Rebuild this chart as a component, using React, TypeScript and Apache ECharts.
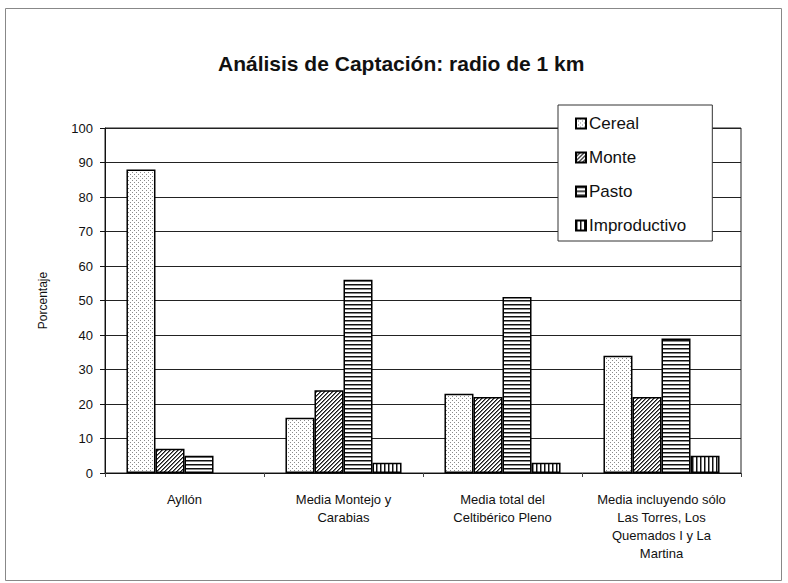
import React, { useEffect, useRef } from "react";
import * as echarts from "echarts";

const categories = [
  "Ayllón",
  "Media Montejo y\nCarabias",
  "Media total del\nCeltibérico Pleno",
  "Media incluyendo sólo\nLas Torres, Los\nQuemados I y La\nMartina",
];
const seriesNames = ["Cereal", "Monte", "Pasto", "Improductivo"];
const cereal = [88, 16, 23, 34];
const monte = [7, 24, 22, 22];
const pasto = [5, 56, 51, 39];
const improductivo = [0, 3, 3, 5];

function makePattern(kind: string): HTMLCanvasElement {
  const c = document.createElement("canvas");
  const s = 4;
  c.width = s;
  c.height = s;
  const ctx = c.getContext("2d")!;
  ctx.fillStyle = "#ffffff";
  ctx.fillRect(0, 0, s, s);
  if (kind === "dots") {
    ctx.fillStyle = "#8a8a8a";
    ctx.fillRect(0, 0, 1, 1);
    ctx.fillRect(2, 2, 1, 1);
  } else if (kind === "diag") {
    ctx.fillStyle = "#1a1a1a";
    for (let i = 0; i < s; i++) {
      ctx.fillRect(s - 1 - i, i, 1, 1);
    }
    ctx.fillStyle = "#777";
    for (let i = 0; i < s; i++) {
      ctx.fillRect((s - i) % s, i, 1, 1);
    }
  } else if (kind === "horiz") {
    ctx.fillStyle = "#111";
    ctx.fillRect(0, 0, s, 1);
    ctx.fillStyle = "#888";
    ctx.fillRect(0, 1, s, 1);
  } else if (kind === "vert") {
    ctx.fillStyle = "#111";
    ctx.fillRect(0, 0, 1, s);
    ctx.fillStyle = "#888";
    ctx.fillRect(1, 0, 1, s);
  }
  return c;
}

export default function App() {
  const ref = useRef<HTMLDivElement>(null);
  useEffect(() => {
    if (!ref.current) return;
    const chart = echarts.init(ref.current, null, { renderer: "svg" });
    const kinds = ["dots", "diag", "horiz", "vert"];
    const datas = [cereal, monte, pasto, improductivo];
    const series = seriesNames.map((name, i) => ({
      name,
      type: "bar",
      data: datas[i].map((v) => (v === 0 ? "-" : v)),
      barGap: "0%",
      barCategoryGap: "27%",
      itemStyle: {
        color: { image: makePattern(kinds[i]), repeat: "repeat" },
        borderColor: "#000",
        borderWidth: 1.5,
      },
    }));
    chart.setOption({
      animation: false,
      backgroundColor: "#fff",
      title: {
        text: "Análisis de Captación: radio de 1 km",
        left: 213,
        top: 48,
        textStyle: {
          fontFamily: "Arial, Liberation Sans",
          fontSize: 21,
          fontWeight: "bold",
          color: "#111",
        },
      },
      graphic: [
        {
          type: "rect",
          shape: { x: 5.5, y: 8.5, width: 776, height: 572 },
          style: { fill: "none", stroke: "#888", lineWidth: 1 },
          silent: true,
        },
      ],
      legend: {
        orient: "vertical",
        left: 558,
        top: 105,
        data: seriesNames,
        icon: "rect",
        itemWidth: 10,
        itemHeight: 10,
        itemGap: 17,
        padding: [10, 26, 7, 17],
        backgroundColor: "#fff",
        borderColor: "#333",
        borderWidth: 1,
        z: 10,
        textStyle: {
          fontFamily: "Arial, Liberation Sans",
          fontSize: 17,
          color: "#111",
          padding: [0, 0, 0, -2],
        },
      },
      grid: {
        left: 105,
        right: 47,
        top: 128,
        bottom: 110,
        show: true,
        borderColor: "#222",
        borderWidth: 1,
        backgroundColor: "transparent",
      },
      xAxis: {
        type: "category",
        data: categories,
        axisLine: { lineStyle: { color: "#111", width: 1 } },
        axisTick: { show: true, length: 4, lineStyle: { color: "#444" } },
        axisLabel: {
          fontFamily: "Arial, Liberation Sans",
          fontSize: 13,
          lineHeight: 18,
          color: "#111",
          margin: 17,
          interval: 0,
        },
      },
      yAxis: {
        type: "value",
        min: 0,
        max: 100,
        interval: 10,
        name: "Porcentaje",
        nameLocation: "middle",
        nameGap: 56,
        nameTextStyle: {
          fontFamily: "Arial, Liberation Sans",
          fontSize: 12,
          color: "#111",
        },
        axisLine: { show: true, lineStyle: { color: "#111", width: 1 } },
        axisTick: { show: true, length: 5, lineStyle: { color: "#111" } },
        splitLine: { show: true, lineStyle: { color: "#222", width: 1 } },
        axisLabel: {
          fontFamily: "Arial, Liberation Sans",
          fontSize: 13,
          color: "#111",
          margin: 12,
        },
      },
      series,
    });
    return () => chart.dispose();
  }, []);
  return (
    <div
      ref={ref}
      style={{ position: "fixed", left: 0, top: 0, width: 788, height: 583 }}
    />
  );
}
